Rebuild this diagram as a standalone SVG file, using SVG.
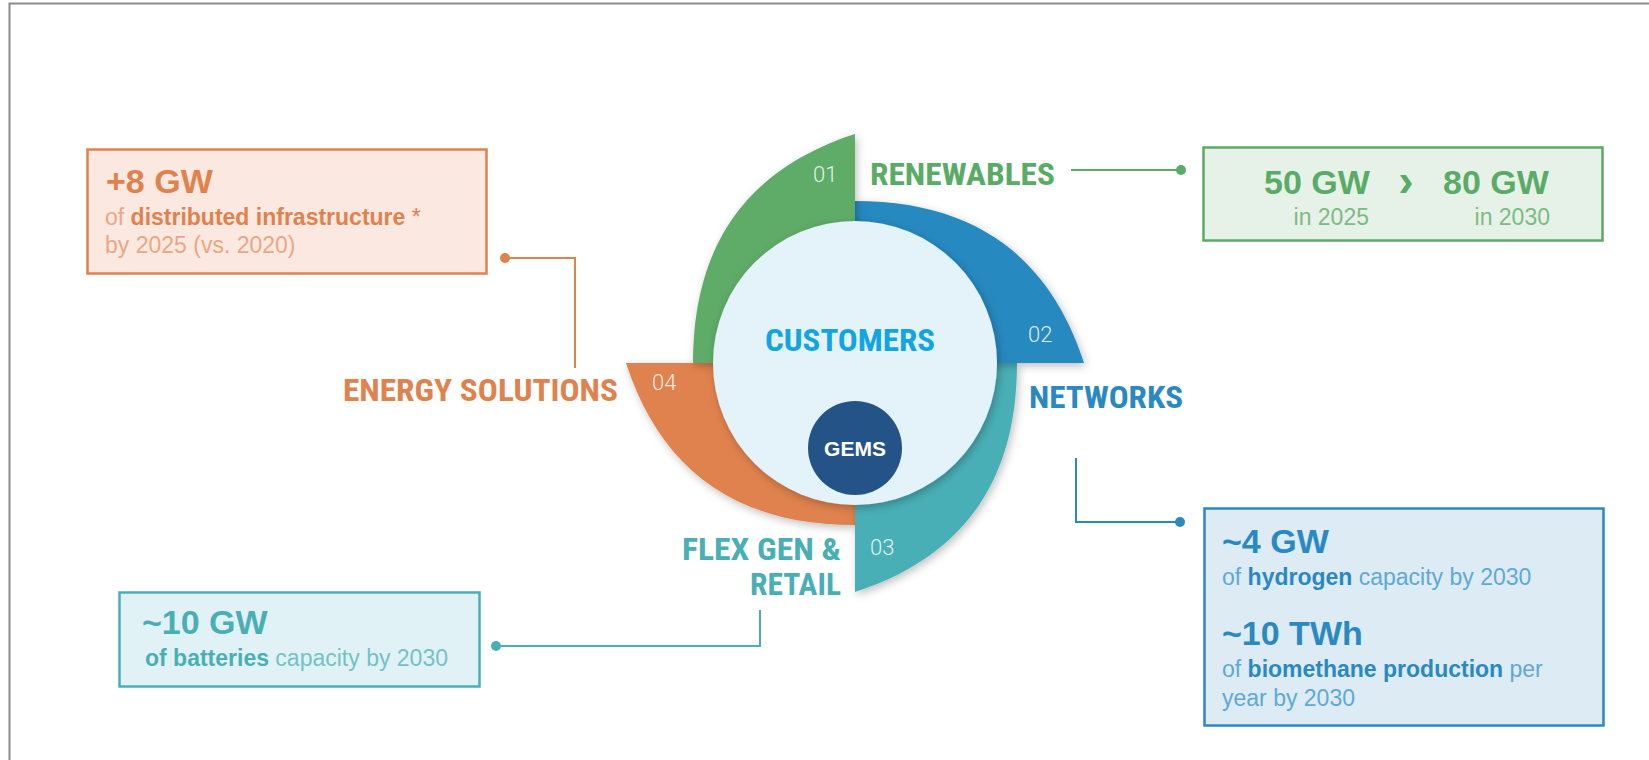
<svg xmlns="http://www.w3.org/2000/svg" width="1649" height="760" viewBox="0 0 1649 760">
  <style>
    .label { font-family: "Roboto Condensed", "Liberation Sans Narrow", Roboto, "Liberation Sans", sans-serif; font-weight: 700; font-size: 31px; }
    .num { font-family: Roboto, "Liberation Sans", sans-serif; font-weight: 300; font-size: 22px; fill: #ffffff; fill-opacity: 0.85; }
    .big { font-family: "Liberation Sans", Arial, sans-serif; font-weight: 700; font-size: 34px; }
    .body { font-family: "Liberation Sans", Arial, sans-serif; font-size: 23px; }
    .b { font-weight: 700; }
    .conn { fill: none; stroke-width: 2; }
  </style>
  <defs>
    <filter id="shadow" x="-20%" y="-20%" width="140%" height="140%">
      <feDropShadow dx="2" dy="3" stdDeviation="4" flood-color="#000" flood-opacity="0.25"/>
    </filter>
  </defs>

  <rect width="1649" height="760" fill="#ffffff"/>
  <!-- page frame -->
  <path d="M9.5 760 V3.5 H1649" fill="none" stroke="#8c8c8c" stroke-width="2"/>

  <!-- wheel segments: each quarter widens clockwise, from r=162 to r=229 -->
  <g id="seg-energy-solutions" filter="url(#shadow)">
    <path d="M855 363 L855 525 C735 525 660.6 469.5 626 363 Z" fill="#e0824d"/>
  </g>
  <g id="seg-flex-gen" filter="url(#shadow)">
    <path d="M855 363 L1017 363 C1017 483 961.5 557.4 855 592 Z" fill="#4aafb6"/>
  </g>
  <g id="seg-networks" filter="url(#shadow)">
    <path d="M855 363 L855 201 C975 201 1049.4 256.5 1084 363 Z" fill="#2789c0"/>
  </g>
  <g id="seg-renewables" filter="url(#shadow)">
    <path d="M855 363 L693 363 C693 243 748.5 168.6 855 134 Z" fill="#5eab68"/>
  </g>

  <g id="customers">
    <circle cx="855" cy="363" r="142" fill="#e3f3f9" filter="url(#shadow)"/>
    <text class="label" x="765" y="351" textLength="170" lengthAdjust="spacingAndGlyphs" fill="#12a5e2">CUSTOMERS</text>
  </g>
  <g id="gems">
    <circle cx="855" cy="448" r="47" fill="#245487"/>
    <text x="855" y="456" text-anchor="middle" font-family="Liberation Sans, Arial, sans-serif" font-weight="700" font-size="21" fill="#ffffff">GEMS</text>
  </g>

  <!-- segment numbers -->
  <g id="numbers">
    <text class="num" x="813" y="182">01</text>
    <text class="num" x="1028" y="342">02</text>
    <text class="num" x="870" y="555">03</text>
    <text class="num" x="652" y="390">04</text>
  </g>

  <!-- segment titles -->
  <g id="title-renewables">
    <text class="label" x="870" y="185" textLength="185" lengthAdjust="spacingAndGlyphs" fill="#5aab66">RENEWABLES</text>
  </g>
  <g id="title-networks">
    <text class="label" x="1029" y="408" textLength="154" lengthAdjust="spacingAndGlyphs" fill="#2a89c1">NETWORKS</text>
  </g>
  <g id="title-flex-gen">
    <text class="label" x="841" y="560" text-anchor="end" textLength="159" lengthAdjust="spacingAndGlyphs" fill="#4aafb5">FLEX GEN &amp;</text>
    <text class="label" x="841" y="595" text-anchor="end" textLength="91" lengthAdjust="spacingAndGlyphs" fill="#4aafb5">RETAIL</text>
  </g>
  <g id="title-energy-solutions">
    <text class="label" x="343" y="401" textLength="275" lengthAdjust="spacingAndGlyphs" fill="#e0824e">ENERGY SOLUTIONS</text>
  </g>

  <!-- connectors -->
  <g id="connectors" class="conn">
    <polyline points="505,258 575,258 575,368" stroke="#e0824e"/>
    <circle cx="505" cy="258" r="5" fill="#e0824e" stroke="none"/>
    <line x1="1071" y1="170" x2="1181" y2="170" stroke="#5aab66"/>
    <circle cx="1181" cy="170" r="5" fill="#5aab66" stroke="none"/>
    <polyline points="1076,458 1076,522 1180,522" stroke="#2a89c1"/>
    <circle cx="1180" cy="522" r="5" fill="#2a89c1" stroke="none"/>
    <polyline points="760,610 760,646 496,646" stroke="#4aafb5"/>
    <circle cx="496" cy="646" r="5" fill="#4aafb5" stroke="none"/>
  </g>

  <!-- target boxes -->
  <g id="box-energy-solutions">
    <rect x="87.5" y="149.5" width="399" height="124" fill="#fbe9e1" stroke="#e0824e" stroke-width="2.5"/>
    <text class="big" x="106" y="193" fill="#e0824e">+8 GW</text>
    <text class="body" x="105" y="225" fill="#eba783">of <tspan class="b" fill="#e0824e">distributed infrastructure</tspan><tspan fill="#e0824e"> *</tspan></text>
    <text class="body" x="105" y="253" fill="#eba783">by 2025 (vs. 2020)</text>
  </g>

  <g id="box-renewables">
    <rect x="1203.5" y="147.5" width="399" height="93" fill="#e6f2e7" stroke="#5aab66" stroke-width="2.5"/>
    <text class="big" x="1264" y="194" fill="#5aab66">50 GW</text>
    <text x="1406" y="196" text-anchor="middle" font-family="Liberation Sans, Arial, sans-serif" font-weight="700" font-size="46" fill="#5aab66">›</text>
    <text class="big" x="1443" y="194" fill="#5aab66">80 GW</text>
    <text class="body" x="1369" y="225" text-anchor="end" font-size="21" fill="#7cbb85">in 2025</text>
    <text class="body" x="1550" y="225" text-anchor="end" font-size="21" fill="#7cbb85">in 2030</text>
  </g>

  <g id="box-networks">
    <rect x="1204.5" y="508.5" width="399" height="217" fill="#ddebf4" stroke="#2a89c1" stroke-width="2.5"/>
    <text class="big" x="1222" y="553" fill="#2a89c1">~4 GW</text>
    <text class="body" x="1222" y="585" fill="#5ea9d5">of <tspan class="b" fill="#2a89c1">hydrogen</tspan> capacity by 2030</text>
    <text class="big" x="1222" y="645" fill="#2a89c1">~10 TWh</text>
    <text class="body" x="1222" y="677" fill="#5ea9d5">of <tspan class="b" fill="#2a89c1">biomethane production</tspan> per</text>
    <text class="body" x="1222" y="706" fill="#5ea9d5">year by 2030</text>
  </g>

  <g id="box-flex-gen">
    <rect x="119.5" y="592.5" width="360" height="94" fill="#e0f2f5" stroke="#4aafb5" stroke-width="2.5"/>
    <text class="big" x="142" y="634" fill="#4aafb5">~10 GW</text>
    <text class="body" x="145" y="666" fill="#74c2c6"><tspan class="b" fill="#4aafb5">of batteries</tspan> capacity by 2030</text>
  </g>
</svg>
